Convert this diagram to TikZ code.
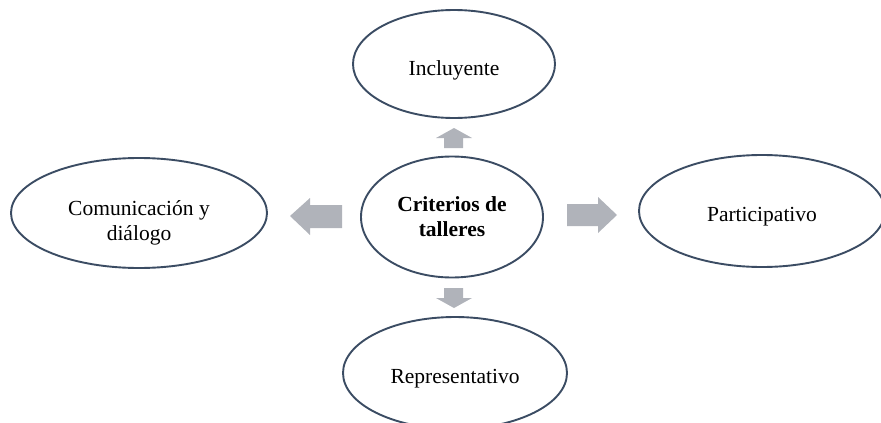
\documentclass[tikz,border=0pt]{standalone}
\usepackage{fontspec}
\setmainfont{Liberation Serif}
\usetikzlibrary{shapes.geometric}

\definecolor{rimblue}{RGB}{59,76,99}
\definecolor{arrowgray}{RGB}{176,179,186}

\tikzset{
    bubble/.style={ellipse, draw=rimblue, line width=1.9pt, fill=white,
        inner sep=0pt, align=center, font=\fontsize{21.5}{25}\selectfont},
    lowtext/.style={text height=#1, text depth=0pt},
}

\begin{document}
\begin{tikzpicture}[x=1pt,y=-1pt]
    \useasboundingbox (0,0) rectangle (881,423);

    % Bubbles
    \node[bubble, minimum width=182pt, minimum height=121pt, font=\fontsize{21.5}{25}\selectfont\bfseries]
        (criterios) at (452,217) {Criterios de\\talleres};
    \node[bubble, lowtext=22pt, minimum width=202pt, minimum height=108pt] (incluyente) at (454,64) {Incluyente};
    \node[bubble, minimum width=256pt, minimum height=110pt] (comunicacion) at (139,213) {\\[10pt]Comunicación y\\diálogo};
    \node[bubble, lowtext=20pt, minimum width=246pt, minimum height=112pt] (participativo) at (762,211) {Participativo};
    \node[bubble, lowtext=20pt, minimum width=224pt, minimum height=112pt] (representativo) at (455,373) {Representativo};

    % Block arrows
    \fill[arrowgray] (454,128) -- (472,138) -- (463,138) -- (463,148)
        -- (444,148) -- (444,138) -- (436,138) -- cycle;
    \fill[arrowgray] (454,308) -- (472,298) -- (463,298) -- (463,288)
        -- (444,288) -- (444,298) -- (436,298) -- cycle;
    \fill[arrowgray] (290,216) -- (310,198) -- (310,205) -- (342,205)
        -- (342,228) -- (310,228) -- (310,235) -- cycle;
    \fill[arrowgray] (617,215) -- (598,197) -- (598,204) -- (567,204)
        -- (567,226) -- (598,226) -- (598,233) -- cycle;
\end{tikzpicture}
\end{document}
